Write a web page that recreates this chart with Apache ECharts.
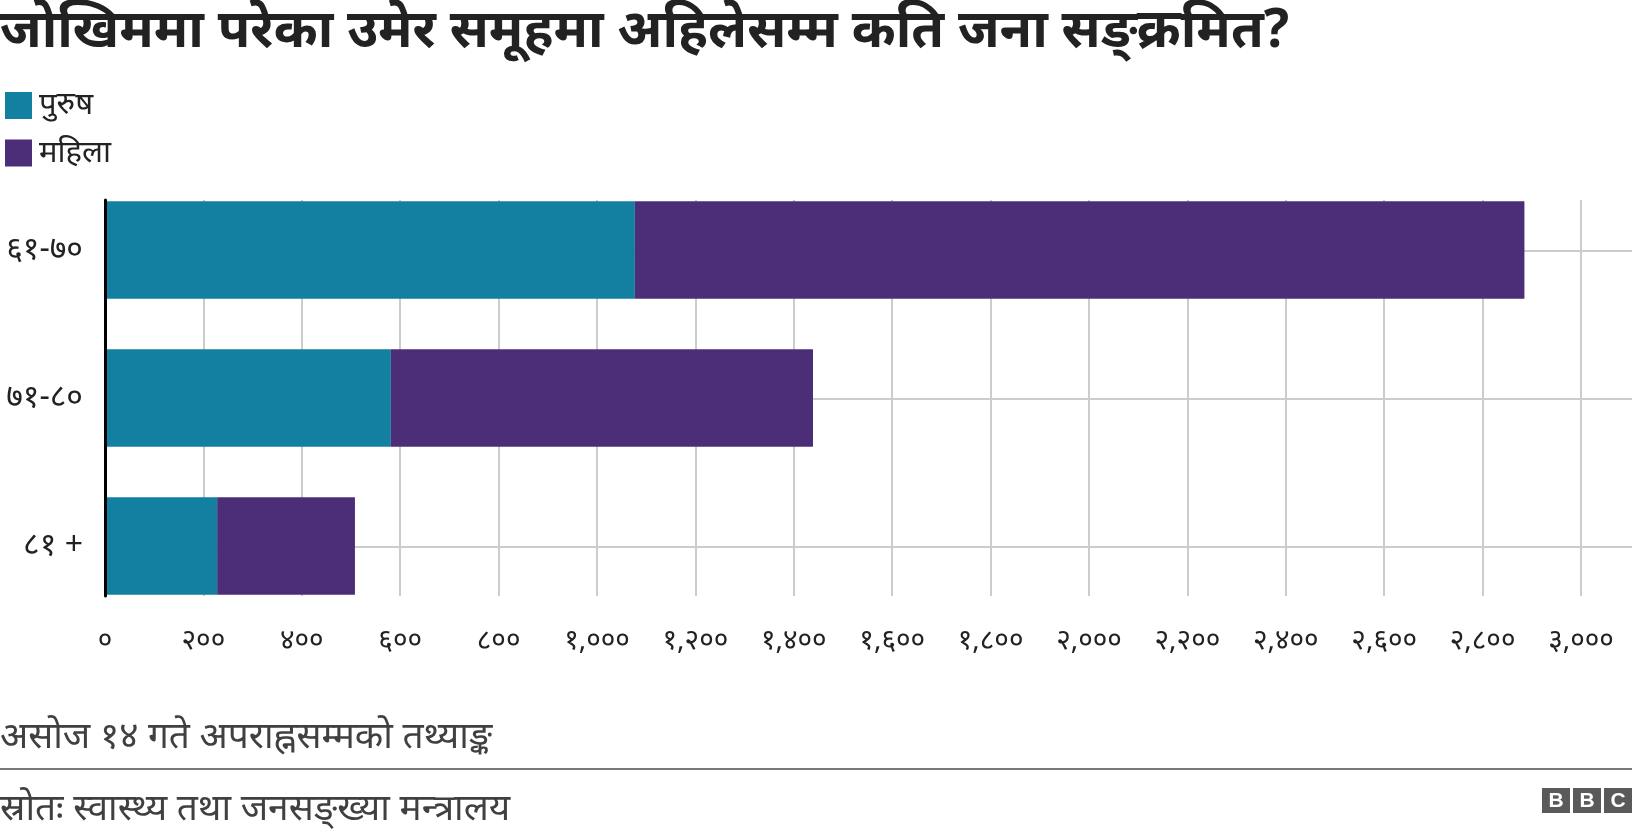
<!DOCTYPE html>
<html><head><meta charset="utf-8">
<script src="https://cdn.jsdelivr.net/npm/echarts@6/dist/echarts.min.js"></script>
<style>html,body{margin:0;padding:0;background:#fff}#c{width:1632px;height:836px}</style>
</head><body><div id="c"></div>
<script>
const categories = ['६१-७०', '७१-८०', '८१ +'];
const maleValues = [1077, 581, 228];
const femaleValues = [1808, 858, 280];
const xTickLabels = ['०','२००','४००','६००','८००','१,०००','१,२००','१,४००','१,६००','१,८००','२,०००','२,२००','२,४००','२,६००','२,८००','३,०००'];
const seriesNames = ['पुरुष', 'महिला'];
const titleText = 'जोखिममा परेका उमेर समूहमा अहिलेसम्म कति जना सङ्क्रमित?';
const noteText = 'असोज १४ गते अपराह्नसम्मको तथ्याङ्क';
const sourceText = 'स्रोतः स्वास्थ्य तथा जनसङ्ख्या मन्त्रालय';

const FONT = '"Noto Sans", "Noto Sans Devanagari", "Lohit Devanagari", "FreeSans", sans-serif';
const chart = echarts.init(document.getElementById('c'));
chart.setOption({
  animation: false,
  textStyle: { fontFamily: FONT },
  graphic: [
    { type: 'text', x: 0, y: 32, style: { text: titleText, fontSize: 53, fontWeight: 'bold', fill: '#222', fontFamily: FONT, verticalAlign: 'middle' } },
    { type: 'text', x: 0, y: 737, style: { text: noteText, fontSize: 37, fill: '#404040', fontFamily: FONT, verticalAlign: 'middle' } },
    { type: 'line', shape: { x1: 0, y1: 769, x2: 1632, y2: 769 }, style: { stroke: '#7a7a7a', lineWidth: 2 } },
    { type: 'text', x: 0, y: 809, style: { text: sourceText, fontSize: 37, fill: '#404040', fontFamily: FONT, verticalAlign: 'middle' } },
    { type: 'group', left: 1542, top: 788, children: [
      { type: 'rect', shape: { x: 0, y: 0, width: 28, height: 25 }, style: { fill: '#5a5a5a' } },
      { type: 'rect', shape: { x: 31, y: 0, width: 28, height: 25 }, style: { fill: '#5a5a5a' } },
      { type: 'rect', shape: { x: 62, y: 0, width: 28, height: 25 }, style: { fill: '#5a5a5a' } },
      { type: 'text', x: 14, y: 13, style: { text: 'B', fill: '#fff', fontSize: 21, fontWeight: 'bold', fontFamily: 'Liberation Sans', align: 'center', verticalAlign: 'middle' } },
      { type: 'text', x: 45, y: 13, style: { text: 'B', fill: '#fff', fontSize: 21, fontWeight: 'bold', fontFamily: 'Liberation Sans', align: 'center', verticalAlign: 'middle' } },
      { type: 'text', x: 76, y: 13, style: { text: 'C', fill: '#fff', fontSize: 21, fontWeight: 'bold', fontFamily: 'Liberation Sans', align: 'center', verticalAlign: 'middle' } }
    ] }
  ],
  legend: {
    orient: 'vertical', left: 0, top: 85, itemWidth: 27, itemHeight: 27, itemGap: 16.5,
    icon: 'rect', data: seriesNames,
    textStyle: { fontSize: 31, lineHeight: 27, color: '#222', padding: [0,0,0,2] }
  },
  grid: [
    { left: 105, right: 51, top: 176, bottom: 216 },
    { left: 105, right: 51, top: 200, bottom: 240 },
    { left: 105, right: 0, top: 251, bottom: 289 }
  ],
  xAxis: [
    { gridIndex: 0, type: 'value', min: 0, max: 3000, show: false },
    { gridIndex: 1, type: 'value', min: 0, max: 3000, interval: 200,
      axisLine: { show: false }, axisTick: { show: false },
      splitLine: { show: true, lineStyle: { color: '#cccccc', width: 2 } },
      axisLabel: { margin: 31, fontSize: 28, color: '#222', formatter: v => xTickLabels[Math.round(v / 200)] || '' } },
    { gridIndex: 2, type: 'value', min: 0, max: 1, show: false }
  ],
  yAxis: [
    { gridIndex: 0, type: 'category', data: categories, inverse: true,
      axisLine: { show: false }, axisTick: { show: false }, splitLine: { show: false },
      axisLabel: { margin: 22, fontSize: 32, color: '#222' } },
    { gridIndex: 1, type: 'value', min: 0, max: 1, z: 10,
      axisLine: { show: true, lineStyle: { color: '#000', width: 3 } },
      axisTick: { show: false }, axisLabel: { show: false }, splitLine: { show: false } },
    { gridIndex: 2, type: 'value', min: 0, max: 2, interval: 1,
      axisLine: { show: false }, axisTick: { show: false }, axisLabel: { show: false },
      splitLine: { show: true, lineStyle: { color: '#cccccc', width: 2 } } }
  ],
  series: [
    { name: seriesNames[0], type: 'bar', stack: 'a', xAxisIndex: 0, yAxisIndex: 0, data: maleValues,
      barCategoryGap: '34%', itemStyle: { color: '#1380A1' } },
    { name: seriesNames[1], type: 'bar', stack: 'a', xAxisIndex: 0, yAxisIndex: 0, data: femaleValues,
      barCategoryGap: '34%', itemStyle: { color: '#4c2d78' } },
    { type: 'line', xAxisIndex: 1, yAxisIndex: 1, data: [], silent: true },
    { type: 'line', xAxisIndex: 2, yAxisIndex: 2, data: [], silent: true }
  ]
});
</script></body></html>
